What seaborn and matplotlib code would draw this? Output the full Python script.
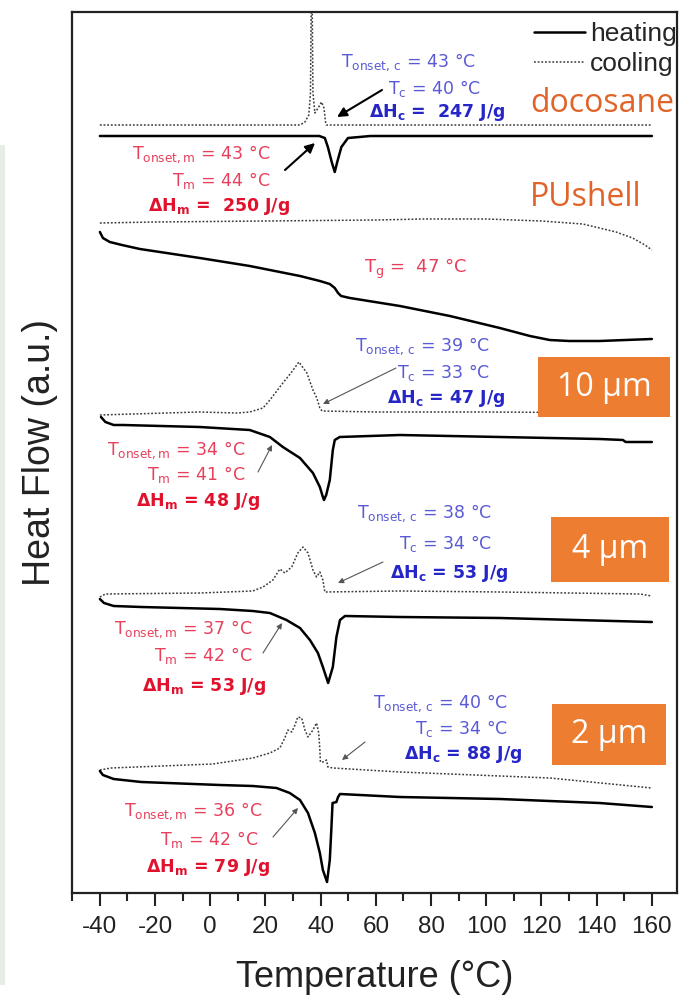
import matplotlib
matplotlib.use("Agg")
import matplotlib.pyplot as plt
import seaborn as sns
import pandas as pd
from matplotlib.patches import Rectangle
from matplotlib.lines import Line2D
from matplotlib.ticker import MultipleLocator

# ---------------- data (temperature in degC, heat flow in a.u., curves offset) -------------
doco_cool_T = [-40, 0, 30, 32.5, 34.3, 35.7, 36.3, 36.6, 36.9, 37.2, 37.9, 39.3, 40.3, 41.2, 41.8, 42.1, 60, 100, 160]
doco_cool_Q = [768, 768, 768, 768, 771, 778, 800, 895, 895, 800, 780, 786, 791, 785, 770, 768, 768, 768, 768]
doco_heat_T = [-40, 0, 30, 39.5, 41.5, 42.6, 44.0, 45.1, 46.0, 47.5, 49.9, 54, 58, 100, 160]
doco_heat_Q = [757, 757, 757, 757, 755, 746, 731, 721, 731, 746, 755, 756, 757, 757, 757]

pu_cool_T = [-40, -20, 20, 60, 77, 100, 120, 135, 147, 153, 157.5, 160]
pu_cool_Q = [670, 671, 672, 673, 674, 674, 672, 669, 661, 655, 648, 643]
pu_heat_T = [-40, -38.9, -36.4, -32, -25.5, -3.8, 14.3, 32.5, 39.7, 43.3, 45.1, 46.3, 47.4, 50.6,
             68.7, 86.8, 104.9, 115.8, 123, 130, 141, 160]
pu_heat_Q = [661, 655, 651, 648, 644, 635, 627, 617, 612, 609, 605, 600, 597, 595,
             587, 577, 565, 557, 553, 552, 552, 554]

m10_cool_T = [-40, -4, 9.6, 14.3, 19.1, 21.6, 26.3, 29.5, 32.1, 35.0, 37.2, 38.6, 39.7, 40.5, 60, 100, 160]
m10_cool_Q = [478, 481, 480, 481, 485, 493, 510, 521, 531, 520, 503, 495, 485, 482, 481, 481, 480]
m10_heat_T = [-39.6, -38, -35, -31.7, -3.8, 14.3, 21.6, 26.3, 32.5, 37.2, 39.7, 40.8, 41.2, 42.0,
              43.3, 44.4, 45.1, 46.9, 68.7, 104.9, 141, 149.5, 150.5, 160]
m10_heat_Q = [476, 471, 468, 468, 466, 463, 456, 446, 435, 420, 406, 396, 393, 398,
              413, 443, 453, 456, 458, 456, 454, 453, 451, 451]

m4_cool_T = [-40, -38, -3.8, 15.4, 19.1, 22.7, 25.2, 27.0, 29.5, 31.7, 33.6, 35.4, 37.2, 38.5,
             39.7, 40.8, 41.5, 68.7, 104.9, 155.7, 160]
m4_cool_Q = [296, 299, 300, 302, 306, 313, 324, 320, 326, 340, 346, 340, 323, 316,
             321, 313, 301, 302, 301, 299, 297]
m4_heat_T = [-40, -38.5, -35, -25, 3.5, 15.4, 21.6, 27.6, 32.5, 36.1, 39.0, 40.8, 42.7, 44.4,
             45.7, 47.0, 48.8, 68.7, 104.9, 160]
m4_heat_Q = [294, 290, 287, 286, 284, 282, 280, 273, 265, 253, 240, 226, 210, 226,
             256, 273, 277, 276, 275, 271]

m2_cool_T = [-40, -36, 0.9, 15.4, 21.6, 25.2, 27.0, 28.1, 29.5, 30.7, 31.7, 33.1, 34.3, 35.4,
             37.2, 38.5, 39.3, 39.7, 39.9, 40.8, 42.1, 42.6, 44.4, 68.7, 123, 160]
m2_cool_Q = [123, 125, 129, 135, 140, 145, 155, 163, 161, 168, 176, 175, 163, 156,
             163, 170, 160, 143, 131, 131, 133, 126, 125, 121, 115, 105]
m2_heat_T = [-40, -38.9, -35, -25, 3.5, 15.4, 24.0, 28.8, 32.5, 35.4, 37.9, 39.7, 40.8, 42.3,
             43.3, 43.9, 44.3, 45.7, 46.3, 47.0, 68.7, 104.9, 141, 160]
m2_heat_Q = [122, 118, 114, 111, 108, 107, 105, 100, 93, 80, 60, 40, 23, 11,
             33, 66, 90, 91, 96, 99, 96, 94, 90, 86]

x_ticks = [-40, -20, 0, 20, 40, 60, 80, 100, 120, 140, 160]
x_label = "Temperature (°C)"
y_label = "Heat Flow (a.u.)"
legend_labels = ["heating", "cooling"]
sample_labels = ["docosane", "PUshell", "10 µm", "4 µm", "2 µm"]

# ---------------- style ----------------
sns.set_style("ticks")
plt.rcParams["font.family"] = ["Liberation Sans", "DejaVu Sans"]
plt.rcParams["mathtext.fontset"] = "dejavusans"
plt.rcParams["axes.unicode_minus"] = False

W, H = 680, 996
fig = plt.figure(figsize=(W / 100, H / 100), dpi=100)
fig.patch.set_facecolor("white")
ax = fig.add_axes([72 / W, 1 - 893 / H, 605 / W, 881 / H])

def P(x, y):
    return (x / W, 1 - y / H)

# faint strip at left edge of the scanned figure
fig.add_artist(Rectangle(P(0, 985), 5 / W, 840 / H, transform=fig.transFigure,
                         facecolor="#e8ece6", edgecolor="none", zorder=0))

heat_kw = dict(color="black", lw=1.8, estimator=None, sort=False)
cool_kw = dict(color="#3a3a3a", lw=1.1, linestyle=(0, (1.2, 1.2)), estimator=None, sort=False)

series = [
    (doco_cool_T, doco_cool_Q, cool_kw), (doco_heat_T, doco_heat_Q, heat_kw),
    (pu_cool_T, pu_cool_Q, cool_kw), (pu_heat_T, pu_heat_Q, heat_kw),
    (m10_cool_T, m10_cool_Q, cool_kw), (m10_heat_T, m10_heat_Q, heat_kw),
    (m4_cool_T, m4_cool_Q, cool_kw), (m4_heat_T, m4_heat_Q, heat_kw),
    (m2_cool_T, m2_cool_Q, cool_kw), (m2_heat_T, m2_heat_Q, heat_kw),
]
for T, Q, kw in series:
    df = pd.DataFrame({"T": T, "Q": Q})
    sns.lineplot(data=df, x="T", y="Q", ax=ax, legend=False, **kw)

ax.set_xlim(-50.1, 169.1)
ax.set_ylim(0, 881)
ax.set_xticks(x_ticks)
ax.xaxis.set_minor_locator(MultipleLocator(10))
ax.set_yticks([])
ax.tick_params(axis="x", which="major", direction="out", length=9.5, width=1.5,
               labelsize=17.5, pad=7, colors="#222222")
ax.tick_params(axis="x", which="minor", direction="out", length=6, width=1.5, colors="#222222")
for s in ax.spines.values():
    s.set_linewidth(1.6)
    s.set_color("#222222")
ax.set_xlabel(x_label, fontsize=26, labelpad=16, color="#222222")
ax.set_ylabel(y_label, fontsize=27, labelpad=10, color="#222222")

# legend
handles = [Line2D([], [], color="black", lw=1.8),
           Line2D([], [], color="#3a3a3a", lw=1.1, linestyle=(0, (1.2, 1.2)))]
ax.legend(handles, legend_labels, loc="upper right", bbox_to_anchor=P(677, 22),
          bbox_transform=fig.transFigure, frameon=False, fontsize=19,
          handlelength=1.95, handletextpad=0.2, labelspacing=0.22, borderpad=0, borderaxespad=0)

# annotations
BLUE, BLUE_B = "#5a5ad6", "#2626c8"
RED, RED_B = "#e8405c", "#e0122e"
FS = 12.5

def note(x, y, s, color, bold=False, size=FS):
    fig.text(*P(x, y + 6), s, ha="right", va="baseline", color=color, fontsize=size,
             family="DejaVu Sans", fontweight="bold" if bold else "normal")

def arrow(tail, head, color="#555555", lw=0.8, ms=8):
    ax.annotate("", xy=P(*head), xycoords="figure fraction", xytext=P(*tail),
                textcoords="figure fraction",
                arrowprops=dict(arrowstyle="-|>", color=color, lw=lw, mutation_scale=ms,
                                shrinkA=0, shrinkB=0))

def block_c(xr, ys, onset, tc, dh):
    note(xr[0], ys[0], r"$\mathrm{T_{onset,\,c}}$ = %s °C" % onset, BLUE)
    note(xr[1], ys[1], r"$\mathrm{T_{c}}$ = %s °C" % tc, BLUE)
    note(xr[2], ys[2], r"$\mathbf{\Delta H_{c}}$ = %s J/g" % dh, BLUE_B, bold=True)

def block_m(xr, ys, onset, tm, dh):
    note(xr[0], ys[0], r"$\mathrm{T_{onset,m}}$ = %s °C" % onset, RED)
    note(xr[1], ys[1], r"$\mathrm{T_{m}}$ = %s °C" % tm, RED)
    note(xr[2], ys[2], r"$\mathbf{\Delta H_{m}}$ = %s J/g" % dh, RED_B, bold=True)

block_c((476, 481, 506), (61, 88, 111), "43", "40", " 247")
block_m((270, 270, 290), (153, 180, 205), "43", "44", " 250")
note(467, 267, r"$\mathrm{T_{g}}$ =  47 °C", RED, size=13)
block_c((490, 490, 505), (345, 372, 397), "39", "33", "47")
block_m((245, 245, 260), (449, 474, 500), "34", "41", "48")
block_c((492, 492, 508), (512, 543, 572), "38", "34", "53")
block_m((252, 252, 266), (628, 655, 685), "37", "42", "53")
block_c((508, 508, 522), (702, 728, 753), "40", "34", "88")
block_m((262, 258, 270), (810, 839, 866), "36", "42", "79")

arrow((382, 90), (337, 117), color="black", lw=1.5, ms=14)
arrow((285, 170), (315, 143), color="black", lw=1.5, ms=14)
arrow((396, 368), (323, 404))
arrow((258, 472), (272, 445))
arrow((383, 562), (338, 583))
arrow((263, 653), (282, 623))
arrow((365, 742), (342, 760))
arrow((273, 837), (298, 808))

# sample labels
ORANGE_T = "#e0642a"
fig.text(*P(530, 103), sample_labels[0], ha="left", va="center", color=ORANGE_T,
         fontsize=23, family="Open Sans")
fig.text(*P(530, 197), sample_labels[1], ha="left", va="center", color=ORANGE_T,
         fontsize=23, family="Open Sans")
boxes = [(538, 357, 670, 417), (551, 517, 669, 582), (552, 704, 666, 765)]
for lab, (x0, y0, x1, y1) in zip(sample_labels[2:], boxes):
    fig.add_artist(Rectangle(P(x0, y1), (x1 - x0) / W, (y1 - y0) / H, transform=fig.transFigure,
                             facecolor="#ED7D31", edgecolor="none", zorder=5))
    fig.text(*P((x0 + x1) / 2, (y0 + y1) / 2), lab, ha="center", va="center", color="white",
             fontsize=23, family="Open Sans", zorder=6)

fig.savefig("out.png", dpi=100, facecolor="white")
